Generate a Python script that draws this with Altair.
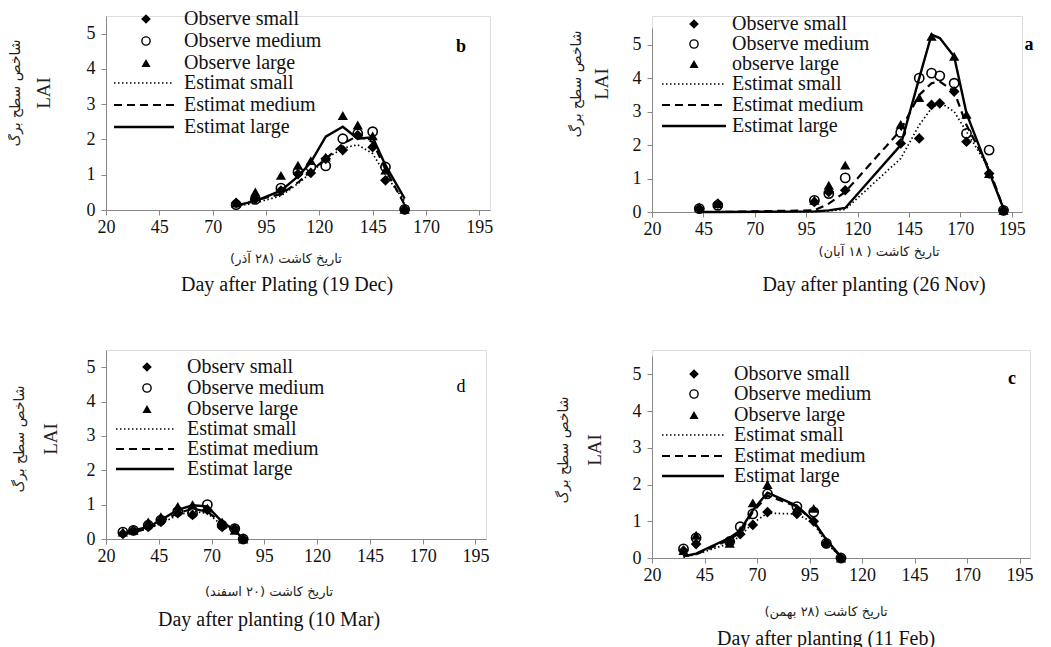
import altair as alt
import pandas as pd

SERIF = "Liberation Serif"
FA = "DejaVu Sans"

X_TICKS = [20, 45, 70, 95, 120, 145, 170, 195]
Y_TICKS = [0, 1, 2, 3, 4, 5]
FA_Y_TITLE = "شاخص سطح برگ"

# ---------------- Panel b (19 Dec) ----------------
b_days = [81, 90, 102, 110, 116, 123, 131, 138, 145, 151, 160]
b_obs_small = [0.20, 0.32, 0.55, 1.02, 1.05, 1.45, 1.70, 2.12, 1.78, 0.84, 0.02]
b_obs_medium = [0.15, 0.30, 0.62, 1.08, 1.22, 1.25, 2.02, 2.17, 2.22, 1.22, 0.02]
b_obs_large = [0.20, 0.51, 0.98, 1.27, 1.40, 1.50, 2.68, 2.41, 2.10, 1.13, 0.02]
b_est_small = [0.10, 0.20, 0.40, 0.75, 1.05, 1.45, 1.75, 1.85, 1.60, 1.00, 0.25]
b_est_medium = [0.10, 0.28, 0.45, 0.78, 1.10, 1.45, 1.88, 2.10, 1.93, 1.15, 0.15]
b_est_large = [0.13, 0.25, 0.55, 0.95, 1.35, 2.08, 2.36, 2.02, 2.06, 1.27, 0.32]
b_labels = ["Observe small", "Observe medium", "Observe large",
            "Estimat small", "Estimat medium", "Estimat large"]

# ---------------- Panel a (26 Nov) ----------------
a_days = [43, 52, 99, 106, 114, 141, 150, 156, 160, 167, 173, 184, 191]
a_obs_small = [0.10, 0.25, 0.30, 0.60, 0.65, 2.05, 2.20, 3.20, 3.25, 3.60, 2.10, 1.15, 0.05]
a_obs_medium = [0.10, 0.20, 0.35, 0.55, 1.02, 2.38, 4.00, 4.15, 4.07, 3.85, 2.35, 1.85, 0.05]
a_obs_large = [0.15, 0.25, 0.35, 0.80, 1.40, 2.62, 3.42, 5.25, None, 4.65, 2.92, 1.15, 0.05]
a_est_small = [0.00, 0.00, 0.01, 0.03, 0.08, 1.60, 2.60, 3.10, 3.28, 3.00, 2.40, 1.30, 0.10]
a_est_medium = [0.00, 0.00, 0.05, 0.25, 0.60, 2.45, 3.50, 3.85, 3.90, 3.60, 2.60, 1.30, 0.10]
a_est_large = [0.00, 0.00, 0.02, 0.05, 0.12, 2.00, 4.00, 5.30, 5.20, 4.65, 2.95, 1.20, 0.10]
a_labels = ["Observe small", "Observe medium", "observe large",
            "Estimat small", "Estimat medium", "Estimat large"]

# ---------------- Panel d (10 Mar) ----------------
d_days = [28, 33, 40, 46, 54, 61, 68, 75, 81, 85]
d_obs_small = [0.15, 0.25, 0.35, 0.50, 0.75, 0.70, 0.85, 0.35, 0.30, 0.00]
d_obs_medium = [0.20, 0.25, 0.40, 0.55, 0.80, 0.75, 1.00, 0.40, 0.30, 0.00]
d_obs_large = [0.20, 0.25, 0.50, 0.65, 0.95, 1.00, 0.90, 0.50, 0.25, 0.00]
d_est_small = [0.15, 0.20, 0.30, 0.45, 0.70, 0.80, 0.75, 0.40, 0.20, 0.00]
d_est_medium = [0.15, 0.20, 0.30, 0.50, 0.75, 0.88, 0.80, 0.45, 0.25, 0.00]
d_est_large = [0.15, 0.25, 0.35, 0.55, 0.85, 0.98, 0.95, 0.50, 0.25, 0.00]
d_labels = ["Observ small", "Observe medium", "Observe large",
            "Estimat small", "Estimat medium", "Estimat large"]

# ---------------- Panel c (11 Feb) ----------------
c_days = [35, 41, 57, 62, 68, 75, 89, 97, 103, 110]
c_obs_small = [0.20, 0.38, 0.45, 0.65, 0.90, 1.25, 1.20, 1.00, 0.40, 0.00]
c_obs_medium = [0.25, 0.55, 0.45, 0.85, 1.20, 1.75, 1.40, 1.25, 0.40, 0.00]
c_obs_large = [0.20, 0.62, 0.40, 0.75, 1.50, 2.00, 1.35, 1.35, 0.45, 0.00]
c_est_small = [0.02, 0.10, 0.40, 0.60, 0.95, 1.22, 1.20, 0.95, 0.40, 0.03]
c_est_medium = [0.05, 0.10, 0.50, 0.70, 1.25, 1.70, 1.40, 1.00, 0.45, 0.03]
c_est_large = [0.05, 0.12, 0.55, 0.75, 1.30, 1.78, 1.42, 1.00, 0.50, 0.03]
c_labels = ["Obsorve small", "Observe medium", "Observe large",
            "Estimat small", "Estimat medium", "Estimat large"]

SHAPES = [("diamond", True, 115), ("circle", False, 85), ("triangle-up", True, 105)]
DASHES = [[1.5, 2.5], [8, 5], None]
DASH_W = [1.7, 2.2, 2.4]


def frame(days, vals):
    rows = [(d, v) for d, v in zip(days, vals) if v is not None]
    return pd.DataFrame(rows, columns=["day", "lai"])


def panel(days, obs, est, labels, letter, bold, fa_title, en_title,
          W, H, yrange, geo):
    xs = alt.X("day:Q", scale=alt.Scale(domain=[20, 200], nice=False),
               axis=alt.Axis(values=X_TICKS, title=None, grid=False,
                             labelFont=SERIF, labelFontSize=18, labelColor="#111",
                             domainColor="#888", tickColor="#888", tickSize=5,
                             labelPadding=3, labelFlush=False))
    if yrange is not None:
        yscale = alt.Scale(domain=[0, 5.5], nice=False, range=yrange)
    else:
        yscale = alt.Scale(domain=[0, 5.5], nice=False)
    ys = alt.Y("lai:Q", scale=yscale,
               axis=alt.Axis(values=Y_TICKS, title=None, grid=False,
                             labelFont=SERIF, labelFontSize=18, labelColor="#111",
                             domainColor="#888", tickColor="#888", tickSize=5,
                             labelPadding=6))
    layers = []
    for vals, dash, w in zip(est, DASHES, DASH_W):
        kw = dict(color="black", strokeWidth=w)
        if dash:
            kw["strokeDash"] = dash
        layers.append(alt.Chart(frame(days, vals)).mark_line(**kw).encode(x=xs, y=ys))
    for vals, (shape, filled, size) in zip(obs, SHAPES):
        layers.append(alt.Chart(frame(days, vals)).mark_point(
            shape=shape, filled=filled, size=size, color="black",
            strokeWidth=1.6, opacity=1).encode(x=xs, y=ys))

    mx, tx, lx1, lx2, rows = geo["legend"]
    for i, lab in enumerate(labels):
        ry = rows[i]
        if i < 3:
            shape, filled, size = SHAPES[i]
            layers.append(alt.Chart(pd.DataFrame({"k": [0]})).mark_point(
                shape=shape, filled=filled, size=size * 0.8, color="black",
                strokeWidth=1.4, opacity=1).encode(x=alt.value(mx), y=alt.value(ry)))
        else:
            kw = dict(color="black", strokeWidth=DASH_W[i - 3])
            if DASHES[i - 3]:
                kw["strokeDash"] = DASHES[i - 3]
            layers.append(alt.Chart(pd.DataFrame({"k": [0]})).mark_rule(**kw).encode(
                x=alt.value(lx1), x2=alt.value(lx2), y=alt.value(ry)))
        layers.append(alt.Chart(pd.DataFrame({"t": [lab]})).mark_text(
            font=SERIF, fontSize=20, align="left", baseline="middle", color="#111").encode(
            x=alt.value(tx), y=alt.value(ry), text="t:N"))

    lx, ly = geo["letter"]
    layers.append(alt.Chart(pd.DataFrame({"t": [letter]})).mark_text(
        font=SERIF, fontSize=18, fontWeight="bold" if bold else "normal",
        align="center", baseline="middle", color="black").encode(
        x=alt.value(lx), y=alt.value(ly), text="t:N"))

    px, lai_x, ty = geo["ytitle"]
    layers.append(alt.Chart(pd.DataFrame({"t": [FA_Y_TITLE]})).mark_text(
        font=FA, fontSize=14, angle=270, align="center", baseline="middle", color="#222").encode(
        x=alt.value(px), y=alt.value(ty), text="t:N"))
    layers.append(alt.Chart(pd.DataFrame({"t": ["LAI"]})).mark_text(
        font=SERIF, fontSize=19, angle=270, align="center", baseline="middle", color="#222").encode(
        x=alt.value(lai_x), y=alt.value(ty), text="t:N"))

    (fx, fy), (ex, ey) = geo["xtitle"]
    layers.append(alt.Chart(pd.DataFrame({"t": [fa_title]})).mark_text(
        font=FA, fontSize=13, align="center", baseline="middle", color="#222").encode(
        x=alt.value(fx), y=alt.value(fy), text="t:N"))
    layers.append(alt.Chart(pd.DataFrame({"t": [en_title]})).mark_text(
        font=SERIF, fontSize=20, align="center", baseline="middle", color="#111").encode(
        x=alt.value(ex), y=alt.value(ey), text="t:N"))

    return alt.layer(*layers).properties(width=W, height=H)


pb = panel(b_days, [b_obs_small, b_obs_medium, b_obs_large],
           [b_est_small, b_est_medium, b_est_large], b_labels, "b", True,
           "تاریخ کاشت (۲۸ آذر)", "Day after Plating (19 Dec)", 384, 194, None,
           dict(legend=(40, 78, 8, 68, [3, 25, 47, 67, 89, 111]), letter=(355, 31),
                ytitle=(-90, -62, 77), xtitle=((180, 243), (181, 269))))

pa = panel(a_days, [a_obs_small, a_obs_medium, a_obs_large],
           [a_est_small, a_est_medium, a_est_large], a_labels, "a", True,
           "تاریخ کاشت ( ۱۸ آبان)", "Day after planting (26 Nov)", 370, 196, [196, 12],
           dict(legend=(42, 80, 10, 74, [8, 28, 48, 68, 89, 110]), letter=(377, 29),
                ytitle=(-75, -50, 68), xtitle=((227, 236), (222, 269))))

pd_ = panel(d_days, [d_obs_small, d_obs_medium, d_obs_large],
            [d_est_small, d_est_medium, d_est_large], d_labels, "d", False,
            "تاریخ کاشت (۲۰ اسفند)", "Day after planting (10 Mar)", 380, 189, None,
            dict(legend=(41, 81, 10, 68, [17, 38, 59, 79, 99, 119]), letter=(355, 37),
                 ytitle=(-86, -55, 89), xtitle=((163, 242), (163, 270))))

pc = panel(c_days, [c_obs_small, c_obs_medium, c_obs_large],
           [c_est_small, c_est_medium, c_est_large], c_labels, "c", True,
           "تاریخ کاشت (۲۸ بهمن)", "Day after planting (11 Feb)", 378, 208, [208, 6],
           dict(legend=(42, 82, 10, 72, [24, 44, 65, 85, 106, 126]), letter=(360, 29),
                ytitle=(-88, -57, 100), xtitle=((174, 262), (174, 289))))

chart = alt.concat(pb, pa, pd_, pc, columns=2, spacing={"row": 138, "column": 162},
                   bounds="flush").properties(
    padding=0
).configure_view(stroke=None).configure(background="white")

chart.save("out.html", embed_options={"renderer": "svg", "actions": False})
